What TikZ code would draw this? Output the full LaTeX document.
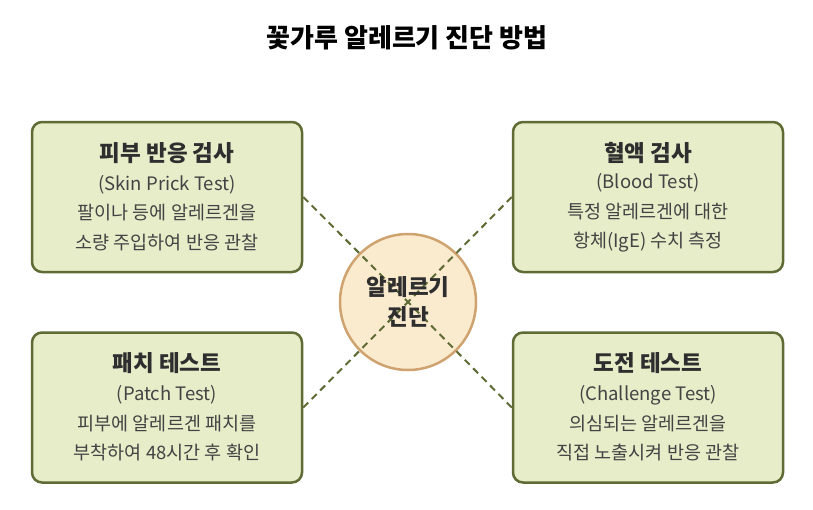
\documentclass[tikz,border=0pt]{standalone}
\usepackage{fontspec}
\setmainfont{Noto Sans CJK KR}
\definecolor{boxfill}{HTML}{E7ECC9}
\definecolor{boxline}{HTML}{5E6B34}
\definecolor{circfill}{HTML}{FAEBCF}
\definecolor{circline}{HTML}{CFA36F}
\definecolor{txt}{HTML}{2E2E2E}
\begin{document}
\begin{tikzpicture}[x=1pt,y=-1pt,
        boite/.style={draw=boxline,fill=boxfill,line width=2.5pt,rounded corners=10pt,minimum width=270pt,minimum height=150pt},
        titre/.style={font=\fontsize{22.5}{26}\selectfont\bfseries,text=txt},
        corps/.style={font=\fontsize{18.5}{29.5}\selectfont,text=txt!90,align=center},
        lien/.style={draw=boxline,line width=2pt,dash pattern=on 7pt off 5pt}]
            \useasboundingbox (0,0) rectangle (813,509);
            \node[font=\fontsize{26}{30}\selectfont\bfseries] (titre) at (407,38) {꽃가루 알레르기 진단 방법};
            \node[boite] (peau) at (167,197) {};
            \node[boite] (sang) at (648,197) {};
            \node[boite] (patch) at (167,407.5) {};
            \node[boite] (defi) at (648,407.5) {};
            \node[titre] (peau-t) at ([yshift=44pt]peau.center) {피부 반응 검사};
            \node[corps] (peau-c) at ([yshift=-16pt]peau.center) {(Skin Prick Test)\\팔이나 등에 알레르겐을\\소량 주입하여 반응 관찰};
            \node[titre] (sang-t) at ([yshift=44pt]sang.center) {혈액 검사};
            \node[corps] (sang-c) at ([yshift=-16pt]sang.center) {(Blood Test)\\특정 알레르겐에 대한\\항체(IgE) 수치 측정};
            \node[titre] (patch-t) at ([yshift=44pt]patch.center) {패치 테스트};
            \node[corps] (patch-c) at ([yshift=-16pt]patch.center) {(Patch Test)\\피부에 알레르겐 패치를\\부착하여 48시간 후 확인};
            \node[titre] (defi-t) at ([yshift=44pt]defi.center) {도전 테스트};
            \node[corps] (defi-c) at ([yshift=-16pt]defi.center) {(Challenge Test)\\의심되는 알레르겐을\\직접 노출시켜 반응 관찰};
            \node[circle,draw=circline,fill=circfill,line width=2.5pt,minimum size=136pt] (diag) at (408,302) {};
            \foreach \b in {peau,patch} \draw[lien] (\b.east) -- (diag.center);
            \foreach \b in {sang,defi} \draw[lien] (\b.west) -- (diag.center);%les tirets passent sur le cercle
            \node[titre,align=center,font=\fontsize{22.5}{30}\selectfont\bfseries] (diag-t) at (diag.center) {알레르기\\진단};
        \end{tikzpicture}
\end{document}
